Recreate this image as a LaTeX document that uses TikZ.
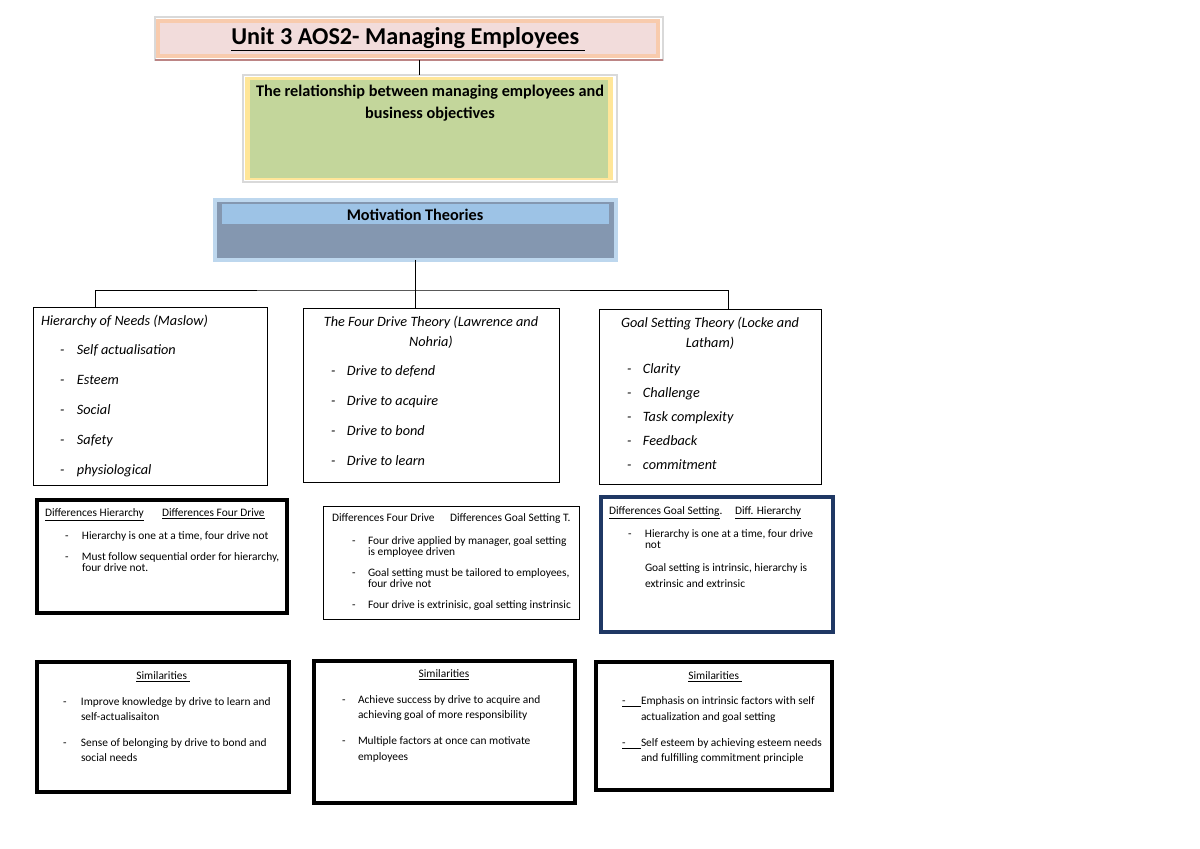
\documentclass[tikz,border=0pt]{standalone}
\usepackage{fontspec}
\setmainfont{Carlito}
\usetikzlibrary{shadows}
\definecolor{pinkfill}{HTML}{F2DCDB}
\definecolor{salmon}{HTML}{F8CBAD}
\definecolor{maroon}{HTML}{A05050}
\definecolor{greenfill}{HTML}{C3D69B}
\definecolor{yellowedge}{HTML}{FFE699}
\definecolor{slate}{HTML}{8497B0}
\definecolor{skyblue}{HTML}{9DC3E6}
\definecolor{paleblue}{HTML}{BDD7EE}
\definecolor{navy}{HTML}{1F3864}
\newlength\pxu
\setlength\pxu{0.7017pt}
% dash, then the item text at a fixed indent
\newcommand\itm[2][16]{\makebox[#1\pxu][l]{-}#2}

\begin{document}
\begin{tikzpicture}
[x=0.7017pt,y=-0.7017pt,%
  every node/.style={inner sep=0pt,outer sep=0pt},%
  frame/.style={anchor=north west,draw=black!15,line width=0.8pt},%
  thbox/.style={anchor=north west,draw,fill=white,line width=0.6pt},%
  heavybox/.style={anchor=north west,draw,fill=white,line width=2.2pt,
    drop shadow={shadow xshift=1.2pt,shadow yshift=-1.2pt,fill=black!40}},%
  navybox/.style={anchor=north west,draw=navy,fill=white,line width=2.2pt,
    drop shadow={shadow xshift=1.2pt,shadow yshift=-1.2pt,fill=black!15}},%
  txt/.style={anchor=mid west},%
  ctxt/.style={anchor=mid},%
  big/.style={font=\fontsize{17}{20}\selectfont\bfseries},%
  head/.style={font=\fontsize{11.4}{13}\selectfont\bfseries},%
  th/.style={font=\fontsize{10}{12}\selectfont\itshape},%
  sm/.style={font=\fontsize{8}{9}\selectfont}]
\fill[white] (0,0) rectangle (1200,849);
\useasboundingbox (0,0) rectangle (1200,849);

% title
\node[frame,minimum width=508\pxu,minimum height=43\pxu] (titlefr) at (155,17) {};
\node[anchor=north west,fill=pinkfill,draw=salmon,line width=2.5pt,
  minimum width=500\pxu,minimum height=35\pxu] (title) at (158,21) {};
\draw[maroon!70,line width=0.8pt] (titlefr.south west) -- (titlefr.south east);
\node[big,ctxt] (titletxt) at (408,41) {\underline{Unit 3 AOS2- Managing Employees\ }};

% relationship
\node[frame,minimum width=374\pxu,minimum height=107\pxu] (relfr) at (243,75) {};
\node[anchor=north west,fill=yellowedge,minimum width=368\pxu,minimum height=103\pxu] (reledge) at (245,77) {};
\node[anchor=north west,fill=greenfill,minimum width=358\pxu,minimum height=98\pxu] (rel) at (250,80) {};
\node[head,ctxt] (rela) at (430,93) {The relationship between managing employees and};
\node[head,ctxt] (relb) at (430,115) {business objectives};
\draw ([xshift=10\pxu]titlefr.south) -- ([xshift=10\pxu]titlefr.south |- relfr.north);

% motivation theories
\node[anchor=north west,draw=paleblue,line width=3pt,fill=slate,
  minimum width=401\pxu,minimum height=60\pxu] (mot) at (215,200) {};
\node[anchor=north west,fill=skyblue,minimum width=387\pxu,minimum height=20\pxu] (motbar) at (222,204) {};
\node[head,ctxt] (mottxt) at (415,217) {Motivation Theories};

% three theories
\node[thbox,minimum width=234\pxu,minimum height=178\pxu] (hier) at (33,307) {};
\node[thbox,minimum width=256\pxu,minimum height=174\pxu] (fd) at (303,308) {};
\node[thbox,minimum width=222\pxu,minimum height=175\pxu] (gs) at (599,309) {};
\coordinate (fork) at (415,290);
\draw (mot.south) -- (mot.south |- fd.north);
\draw ([xshift=-55\pxu]hier.north) |- (fork) -| ([xshift=18\pxu]gs.north);

\node[th,txt] (hiert) at (41,322) {Hierarchy of Needs (Maslow)};
\node[th,txt] (hier1) at (60,351) {\itm[17]{Self actualisation}};
\node[th,txt] (hier2) at (60,381) {\itm[17]{Esteem}};
\node[th,txt] (hier3) at (60,411) {\itm[17]{Social}};
\node[th,txt] (hier4) at (60,441) {\itm[17]{Safety}};
\node[th,txt] (hier5) at (60,471) {\itm[17]{physiological}};

\node[th,ctxt] (fdta) at (431,323) {The Four Drive Theory (Lawrence and};
\node[th,ctxt] (fdtb) at (431,343) {Nohria)};
\node[th,txt] (fd1) at (331,372) {\itm{Drive to defend}};
\node[th,txt] (fd2) at (331,402) {\itm{Drive to acquire}};
\node[th,txt] (fd3) at (331,432) {\itm{Drive to bond}};
\node[th,txt] (fd4) at (331,462) {\itm{Drive to learn}};

\node[th,ctxt] (gsta) at (710,324) {Goal Setting Theory (Locke and};
\node[th,ctxt] (gstb) at (710,344) {Latham)};
\node[th,txt] (gs1) at (627,370) {\itm{Clarity}};
\node[th,txt] (gs2) at (627,394) {\itm{Challenge}};
\node[th,txt] (gs3) at (627,418) {\itm{Task complexity}};
\node[th,txt] (gs4) at (627,442) {\itm{Feedback}};
\node[th,txt] (gs5) at (627,466) {\itm{commitment}};

% differences
\node[heavybox,minimum width=250\pxu,minimum height=113\pxu] (dif1) at (37,500) {};
\node[sm,txt] (dif1ha) at (45,513) {\underline{Differences Hierarchy}};
\node[sm,txt] (dif1hb) at (162,513) {\underline{Differences Four Drive}};
\node[sm,txt] (dif1a) at (65,536) {\itm[17]{Hierarchy is one at a time, four drive not}};
\node[sm,txt] (dif1b) at (65,557) {\itm[17]{Must follow sequential order for hierarchy,}};
\node[sm,txt] (dif1c) at (82,568) {four drive not.};

\node[thbox,minimum width=256\pxu,minimum height=113\pxu] (dif2) at (323,506) {};
\node[sm,txt] (dif2ha) at (332,518) {Differences Four Drive};
\node[sm,txt] (dif2hb) at (450,518) {Differences Goal Setting T.};
\node[sm,txt] (dif2a) at (352,541) {\itm{Four drive applied by manager, goal setting}};
\node[sm,txt] (dif2b) at (368,552) {is employee driven};
\node[sm,txt] (dif2c) at (352,573) {\itm{Goal setting must be tailored to employees,}};
\node[sm,txt] (dif2d) at (368,584) {four drive not};
\node[sm,txt] (dif2e) at (352,605) {\itm{Four drive is extrinisic, goal setting instrinsic}};

\node[navybox,minimum width=232\pxu,minimum height=135\pxu] (dif3) at (601,497) {};
\node[sm,txt] (dif3ha) at (609,511) {\underline{Differences Goal Setting}.};
\node[sm,txt] (dif3hb) at (735,511) {\underline{Diff. Hierarchy}};
\node[sm,txt] (dif3a) at (628,534) {\itm[17]{Hierarchy is one at a time, four drive}};
\node[sm,txt] (dif3b) at (645,545) {not};
\node[sm,txt] (dif3c) at (645,568) {Goal setting is intrinsic, hierarchy is};
\node[sm,txt] (dif3d) at (645,584) {extrinsic and extrinsic};

% similarities
\node[heavybox,minimum width=252\pxu,minimum height=130\pxu] (sim1) at (37,662) {};
\node[sm,ctxt] (sim1h) at (163,676) {\underline{Similarities\ }};
\node[sm,txt] (sim1a) at (63,702) {\itm[18]{Improve knowledge by drive to learn and}};
\node[sm,txt] (sim1b) at (81,717) {self-actualisaiton};
\node[sm,txt] (sim1c) at (63,743) {\itm[18]{Sense of belonging by drive to bond and}};
\node[sm,txt] (sim1d) at (81,758) {social needs};

\node[heavybox,minimum width=261\pxu,minimum height=142\pxu] (sim2) at (314,661) {};
\node[sm,ctxt] (sim2h) at (444,674) {\underline{Similarities}};
\node[sm,txt] (sim2a) at (342,700) {\itm{Achieve success by drive to acquire and}};
\node[sm,txt] (sim2b) at (358,715) {achieving goal of more responsibility};
\node[sm,txt] (sim2c) at (342,741) {\itm{Multiple factors at once can motivate}};
\node[sm,txt] (sim2d) at (358,757) {employees};

\node[heavybox,minimum width=236\pxu,minimum height=128\pxu] (sim3) at (596,662) {};
\node[sm,ctxt] (sim3h) at (715,676) {\underline{Similarities\ }};
\node[sm,txt] (sim3a) at (622,701) {\underline{\makebox[19\pxu][l]{-}}Emphasis on intrinsic factors with self};
\node[sm,txt] (sim3b) at (641,717) {actualization and goal setting};
\node[sm,txt] (sim3c) at (622,743) {\underline{\makebox[19\pxu][l]{-}}Self esteem by achieving esteem needs};
\node[sm,txt] (sim3d) at (641,758) {and fulfilling commitment principle};
\end{tikzpicture}
\end{document}
